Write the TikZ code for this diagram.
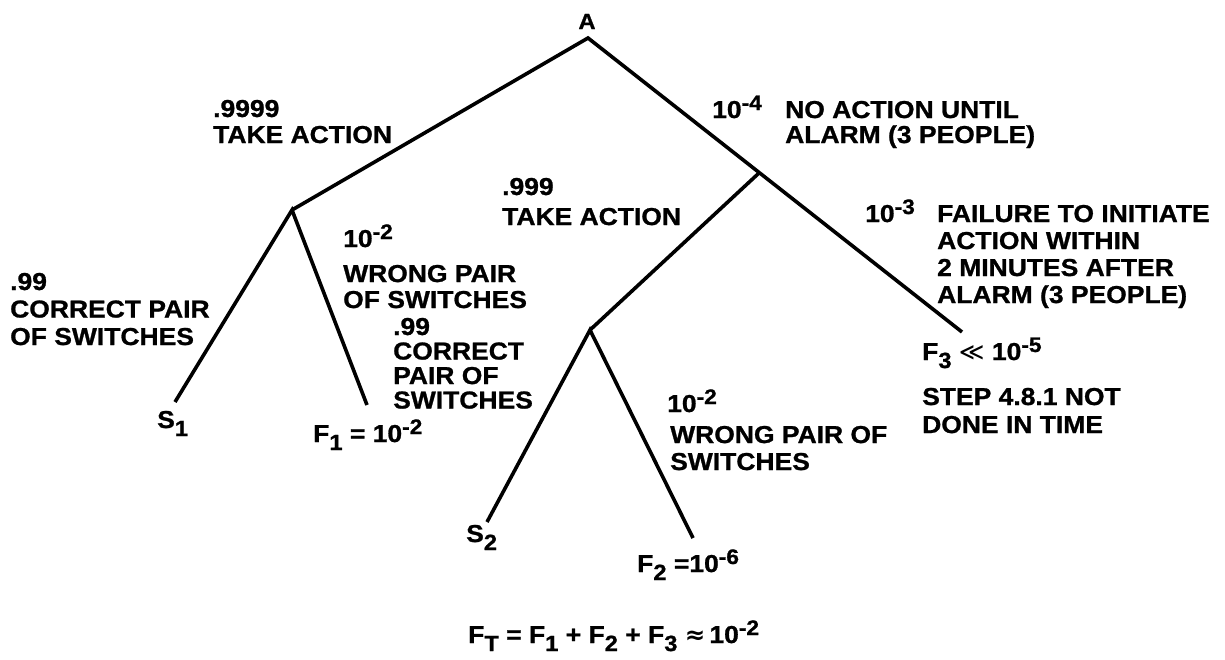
\documentclass[tikz,border=0pt]{standalone}
\usepackage{fontspec}
\setmainfont{Liberation Sans}[FakeStretch=1.08,FakeBold=1]
\newfontfamily\symf{DejaVu Sans}
\newcommand\Sup[1]{\raisebox{8pt}{\fontsize{21}{21}\selectfont #1}}
\newcommand\Sub[1]{\raisebox{-8pt}{\fontsize{22}{22}\selectfont #1}}
\newcommand\stk[2]{\vtop{\baselineskip=#1\relax\lineskiplimit=-\maxdimen\lineskip=0pt\halign{##\hfil\cr#2\cr}}}
\begin{document}
\begin{tikzpicture}[x=1pt,y=-1pt,
  lbl/.style={anchor=base west, inner sep=0pt, font=\fontsize{24.5}{26}\selectfont\bfseries},
  branch/.style={line width=3.6pt, line join=miter}]
\useasboundingbox (0,0) rectangle (1225,659);
\fill[white] (0,0) rectangle (1225,659);
% tree points
\coordinate (A) at (588,38);
\coordinate (J1) at (292,210);
\coordinate (J2) at (759,173);
\coordinate (J3) at (590,330);
\coordinate (S1e) at (175,402);
\coordinate (F1e) at (367,405);
\coordinate (F3e) at (962,332);
\coordinate (S2e) at (487,522);
\coordinate (F2e) at (693,538);
% branches
\draw[branch] (J1) -- (A) -- (F3e);
\draw[branch] (S1e) -- (J1) -- (F1e);
\draw[branch] (J2) -- (J3);
\draw[branch] (S2e) -- (J3) -- (F2e);
% labels
\node[lbl, anchor=base, font=\fontsize{22}{22}\selectfont\bfseries] (tA) at (587,29) {A};
\node[lbl] (l1) at (213,117) {\stk{26pt}{.9999\cr TAKE ACTION}};
\node[lbl] (p4) at (712,118) {10\Sup{-4}};
\node[lbl] (l2) at (785,118) {\stk{25pt}{NO ACTION UNTIL\cr ALARM (3 PEOPLE)}};
\node[lbl] (l3) at (502,195) {\stk{30pt}{.999\cr TAKE ACTION}};
\node[lbl] (p3) at (865,222) {10\Sup{-3}};
\node[lbl] (l4) at (937,222) {\stk{27pt}{FAILURE TO INITIATE\cr ACTION WITHIN\cr 2 MINUTES AFTER\cr ALARM (3 PEOPLE)}};
\node[lbl] (l5) at (10,290) {\stk{27.5pt}{.99\cr CORRECT PAIR\cr OF SWITCHES}};
\node[lbl] (p6) at (343,247) {10\Sup{-2}};
\node[lbl] (l6) at (343,282) {\stk{26pt}{WRONG PAIR\cr OF SWITCHES}};
\node[lbl] (l7) at (393,335) {\stk{24.5pt}{.99\cr CORRECT\cr PAIR OF\cr SWITCHES}};
\node[lbl] (s1) at (157,428) {S\Sub{1}};
\node[lbl] (f1) at (313,442) {F\Sub{1} = 10\Sup{-2}};
\node[lbl] (p8) at (667,412) {10\Sup{-2}};
\node[lbl] (l8) at (670,443) {\stk{27pt}{WRONG PAIR OF\cr SWITCHES}};
\node[lbl] (s2) at (466,542) {S\Sub{2}};
\node[lbl] (f2) at (637,572) {F\Sub{2} =10\Sup{-6}};
\node[lbl] (f3) at (922,360) {F\Sub{3} {\symf\mdseries ≪} 10\Sup{-5}};
\node[lbl] (l9) at (922,405) {\stk{28pt}{STEP 4.8.1 NOT\cr DONE IN TIME}};
\node[lbl] (ft) at (468,643) {F\Sub{T} = F\Sub{1} + F\Sub{2} + F\Sub{3} {\symf ≈}\,10\Sup{-2}};
\end{tikzpicture}
\end{document}
